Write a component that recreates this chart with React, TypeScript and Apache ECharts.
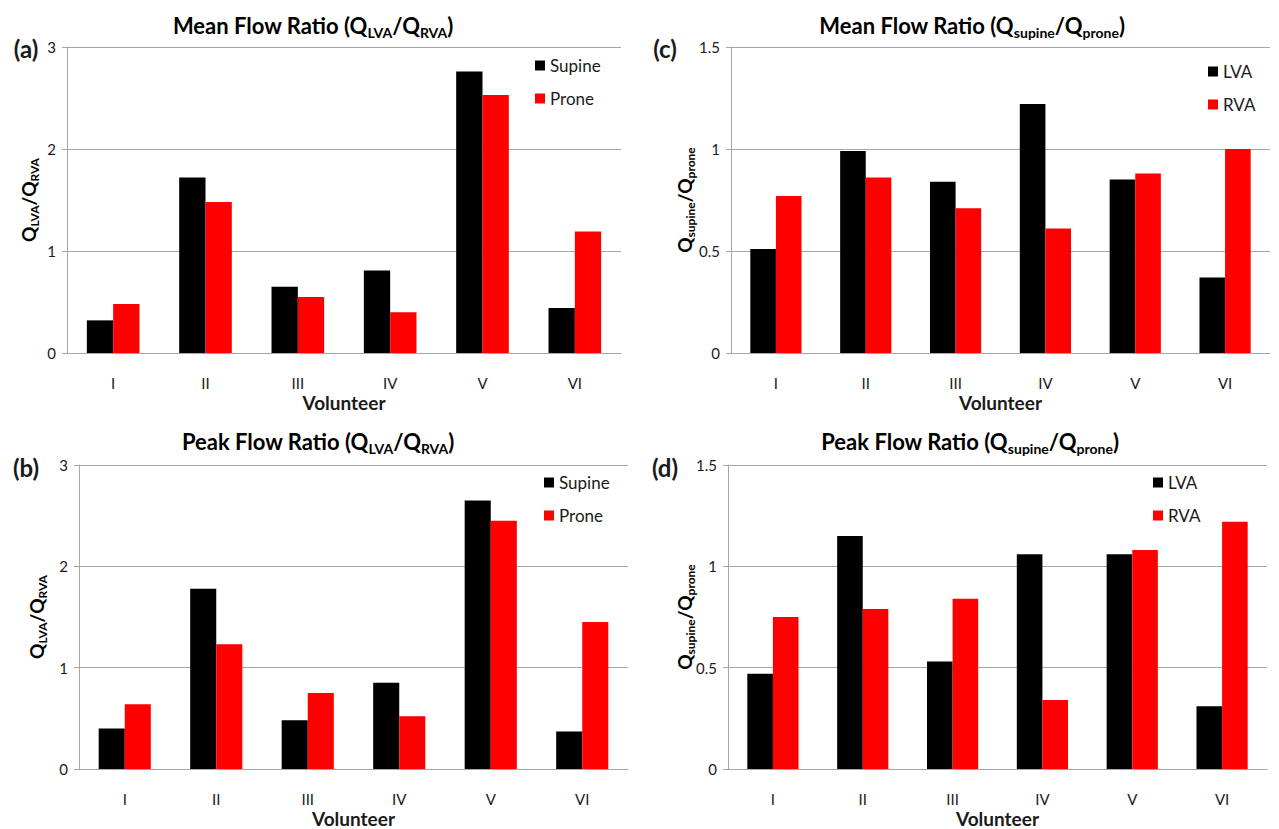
import React, { useEffect, useRef } from "react";
import * as echarts from "echarts";

const volunteers = ["I", "II", "III", "IV", "V", "VI"];

// (a) Mean flow ratio Q_LVA / Q_RVA
const meanLvaRvaSupine = [0.32, 1.72, 0.65, 0.81, 2.76, 0.44];
const meanLvaRvaProne = [0.48, 1.48, 0.55, 0.40, 2.53, 1.19];
// (b) Peak flow ratio Q_LVA / Q_RVA
const peakLvaRvaSupine = [0.40, 1.78, 0.48, 0.85, 2.65, 0.37];
const peakLvaRvaProne = [0.64, 1.23, 0.75, 0.52, 2.45, 1.45];
// (c) Mean flow ratio Q_supine / Q_prone
const meanSupProLVA = [0.51, 0.99, 0.84, 1.22, 0.85, 0.37];
const meanSupProRVA = [0.77, 0.86, 0.71, 0.61, 0.88, 1.0];
// (d) Peak flow ratio Q_supine / Q_prone
const peakSupProLVA = [0.47, 1.15, 0.53, 1.06, 1.06, 0.31];
const peakSupProRVA = [0.75, 0.79, 0.84, 0.34, 1.08, 1.22];

const FONT = "Lato, 'Open Sans', sans-serif";
const GRAY = "#a6a6a6";
const TXT = "#1a1a1a";

const grids = [
  { left: 67, top: 47, width: 554, height: 306 },
  { left: 79, top: 465, width: 549, height: 305 },
  { left: 731, top: 47, width: 539, height: 306 },
  { left: 728, top: 465, width: 539, height: 305 },
];

const titleRich = {
  t: { fontSize: 22, fontWeight: "bold", fontFamily: FONT, color: TXT, lineHeight: 28, verticalAlign: "middle" },
  s: { fontSize: 14, fontWeight: "bold", fontFamily: FONT, color: TXT, lineHeight: 14, verticalAlign: "bottom" },
};

export default function App() {
  const ref = useRef<HTMLDivElement>(null);
  useEffect(() => {
    if (!ref.current) return;
    const chart = echarts.init(ref.current, null, { renderer: "svg" });

    const xAxes = grids.map((_, i) => ({
      type: "category",
      gridIndex: i,
      data: volunteers,
      axisLine: { lineStyle: { color: GRAY, width: 1 } },
      axisTick: { show: false },
      axisLabel: { color: TXT, fontSize: 15, fontFamily: FONT, margin: 22 },
      name: "Volunteer",
      nameLocation: "middle",
      nameGap: 40,
      nameTextStyle: { color: TXT, fontSize: 19, fontWeight: "bold", fontFamily: FONT },
    }));

    const yAxes = grids.map((_, i) => ({
      type: "value",
      gridIndex: i,
      min: 0,
      max: i < 2 ? 3 : 1.5,
      interval: i < 2 ? 1 : 0.5,
      axisLine: { show: true, lineStyle: { color: GRAY, width: 1 } },
      axisTick: { show: true, length: 5, lineStyle: { color: GRAY } },
      splitLine: { lineStyle: { color: GRAY, width: 1 } },
      axisLabel: { color: TXT, fontSize: 15, fontFamily: FONT, margin: 11 },
    }));

    const seriesDefs = [
      [meanLvaRvaSupine, meanLvaRvaProne, "Supine", "Prone"],
      [peakLvaRvaSupine, peakLvaRvaProne, "Supine", "Prone"],
      [meanSupProLVA, meanSupProRVA, "LVA", "RVA"],
      [peakSupProLVA, peakSupProRVA, "LVA", "RVA"],
    ] as const;

    const series: any[] = [];
    seriesDefs.forEach((d, i) => {
      series.push({
        type: "bar",
        name: d[2],
        xAxisIndex: i,
        yAxisIndex: i,
        data: d[0],
        itemStyle: { color: "#000000" },
        barGap: "0%",
        barCategoryGap: "43%",
      });
      series.push({
        type: "bar",
        name: d[3],
        xAxisIndex: i,
        yAxisIndex: i,
        data: d[1],
        itemStyle: { color: "#ff0000" },
        barGap: "0%",
        barCategoryGap: "43%",
      });
    });

    const legendBase = {
      orient: "vertical",
      icon: "rect",
      itemWidth: 10,
      itemHeight: 10,
      itemGap: 16,
      padding: 0,
      textStyle: { color: TXT, fontSize: 17, fontFamily: FONT },
      selectedMode: false,
    };
    const legends = [
      { ...legendBase, data: ["Supine", "Prone"], left: 535, top: 57 },
      { ...legendBase, data: ["Supine", "Prone"], left: 544, top: 474 },
      { ...legendBase, data: ["LVA", "RVA"], left: 1208, top: 63 },
      { ...legendBase, data: ["LVA", "RVA"], left: 1153, top: 474 },
    ];

    const titles = [
      { x: 313, y: 25, text: "{t|Mean Flow Ratio (Q}{s|LVA}{t|/Q}{s|RVA}{t|)}" },
      { x: 318, y: 441, text: "{t|Peak Flow Ratio (Q}{s|LVA}{t|/Q}{s|RVA}{t|)}" },
      { x: 972, y: 25, text: "{t|Mean Flow Ratio (Q}{s|supine}{t|/Q}{s|prone}{t|)}" },
      { x: 970, y: 441, text: "{t|Peak Flow Ratio (Q}{s|supine}{t|/Q}{s|prone}{t|)}" },
    ];
    const yNames = [
      { x: 28, y: 200, text: "{t|Q}{s|LVA}{t|/Q}{s|RVA}" },
      { x: 36, y: 617, text: "{t|Q}{s|LVA}{t|/Q}{s|RVA}" },
      { x: 684, y: 200, text: "{t|Q}{s|supine}{t|/Q}{s|prone}" },
      { x: 684, y: 617, text: "{t|Q}{s|supine}{t|/Q}{s|prone}" },
    ];
    const panelLabels = [
      { x: 26, y: 48, text: "(a)" },
      { x: 26, y: 467, text: "(b)" },
      { x: 665, y: 48, text: "(c)" },
      { x: 665, y: 467, text: "(d)" },
    ];

    const yNameRich = {
      t: { fontSize: 19, fontWeight: "bold", fontFamily: FONT, color: TXT, lineHeight: 24, verticalAlign: "middle" },
      s: { fontSize: 12, fontWeight: "bold", fontFamily: FONT, color: TXT, lineHeight: 12, verticalAlign: "bottom" },
    };

    const graphic: any[] = [
      ...titles.map((t) => ({
        type: "text",
        x: t.x,
        y: t.y,
        style: { text: t.text, rich: titleRich, align: "center", verticalAlign: "middle" },
      })),
      ...yNames.map((t) => ({
        type: "text",
        x: t.x,
        y: t.y,
        rotation: Math.PI / 2,
        style: { text: t.text, rich: yNameRich, align: "center", verticalAlign: "middle" },
      })),
      ...panelLabels.map((t) => ({
        type: "text",
        x: t.x,
        y: t.y,
        style: {
          text: t.text,
          fontSize: 24,
          fontWeight: "bold",
          fontFamily: FONT,
          fill: TXT,
          align: "center",
          verticalAlign: "middle",
        },
      })),
    ];

    chart.setOption({
      animation: false,
      backgroundColor: "#ffffff",
      grid: grids,
      xAxis: xAxes,
      yAxis: yAxes,
      legend: legends,
      series,
      graphic,
    });
    return () => chart.dispose();
  }, []);

  return (
    <div
      ref={ref}
      style={{ position: "absolute", left: 0, top: 0, width: 1279, height: 829 }}
    />
  );
}
